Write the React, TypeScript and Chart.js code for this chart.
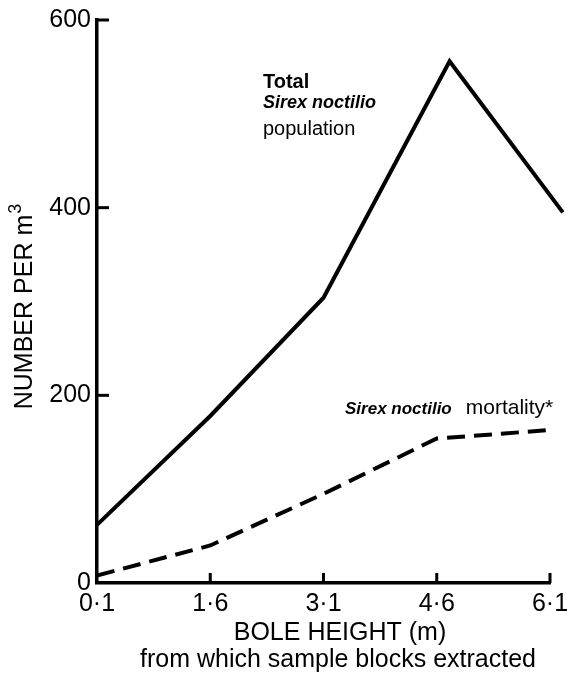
import React, { useEffect, useRef } from "react";
import { Chart, registerables } from "chart.js";

Chart.register(...registerables);

// ---- data ----
const heightTicks = [0.1, 1.6, 3.1, 4.6, 6.1];
const heightLabels = ["0·1", "1·6", "3·1", "4·6", "6·1"];
const yTicks = [0, 200, 400, 600];

const totalX = [0.1, 1.6, 3.1, 4.77, 6.27];
const totalY = [62, 178, 304, 556, 395];

const mortalityX = [0.1, 1.6, 3.1, 4.6, 6.1];
const mortalityY = [8, 40, 95, 154, 163];

const FONT = '"Liberation Sans", Arial, Helvetica, sans-serif';

const decor = {
  id: "decor",
  afterDraw(chart: any) {
    const { ctx, chartArea: a, scales } = chart;
    const xs = scales.x;
    const ys = scales.y;
    ctx.save();
    ctx.strokeStyle = "#000";
    ctx.lineWidth = 3;
    ctx.lineCap = "butt";
    heightTicks.slice(1).forEach((v) => {
      const px = xs.getPixelForValue(v);
      ctx.beginPath();
      ctx.moveTo(px, a.bottom);
      ctx.lineTo(px, a.bottom - 10);
      ctx.stroke();
    });
    yTicks.slice(1).forEach((v) => {
      const py = ys.getPixelForValue(v);
      ctx.beginPath();
      ctx.moveTo(a.left, py);
      ctx.lineTo(a.left + 12, py);
      ctx.stroke();
    });

    ctx.fillStyle = "#000";
    // annotations
    ctx.textAlign = "left";
    ctx.textBaseline = "alphabetic";
    ctx.font = `bold 20px ${FONT}`;
    ctx.fillText("Total", 263, 88);
    ctx.font = `italic bold 18px ${FONT}`;
    ctx.fillText("Sirex noctilio", 263, 108);
    ctx.font = `20px ${FONT}`;
    ctx.fillText("population", 263, 135);

    ctx.font = `italic bold 17px ${FONT}`;
    const s1 = "Sirex noctilio";
    ctx.fillText(s1, 345, 414);
    const w1 = ctx.measureText(s1).width;
    ctx.font = `21px ${FONT}`;
    ctx.fillText("mortality*", 345 + w1 + 14, 414);

    // x title
    ctx.textAlign = "center";
    ctx.font = `25px ${FONT}`;
    ctx.fillText("BOLE HEIGHT (m)", 340, 640);
    ctx.fillText("from which sample blocks extracted", 338, 667);

    // y title
    ctx.save();
    ctx.translate(32, 307);
    ctx.rotate(-Math.PI / 2);
    ctx.textAlign = "left";
    ctx.font = `25px ${FONT}`;
    const main = "NUMBER PER m";
    const mw = ctx.measureText(main).width;
    ctx.font = `18px ${FONT}`;
    const sw = ctx.measureText("3").width;
    const start = -(mw + sw) / 2;
    ctx.font = `25px ${FONT}`;
    ctx.fillText(main, start, 0);
    ctx.font = `18px ${FONT}`;
    ctx.fillText("3", start + mw + 1, -11);
    ctx.restore();

    ctx.restore();
  },
};

export default function App() {
  const ref = useRef<HTMLCanvasElement>(null);
  useEffect(() => {
    const chart = new Chart(ref.current as HTMLCanvasElement, {
      type: "line",
      data: {
        datasets: [
          {
            label: "Total Sirex noctilio population",
            data: totalX.map((x, i) => ({ x, y: totalY[i] })),
            borderColor: "#000",
            borderWidth: 4,
            pointRadius: 0,
            tension: 0,
            fill: false,
            clip: false as any,
            borderJoinStyle: "miter",
          },
          {
            label: "Sirex noctilio mortality*",
            data: mortalityX.map((x, i) => ({ x, y: mortalityY[i] })),
            borderColor: "#000",
            borderWidth: 4,
            borderDash: [18, 9],
            pointRadius: 0,
            tension: 0,
            fill: false,
          },
        ],
      },
      options: {
        animation: false,
        responsive: false,
        devicePixelRatio: 1,
        layout: { padding: { left: 0, top: 20, right: 17, bottom: 0 } },
        plugins: { legend: { display: false }, tooltip: { enabled: false } },
        scales: {
          x: {
            type: "linear",
            min: 0.1,
            max: 6.1,
            afterBuildTicks: (s: any) => {
              s.ticks = heightTicks.map((v) => ({ value: v }));
            },
            afterFit: (s: any) => {
              s.height = 94;
              s.paddingRight = 0;
              s.paddingLeft = 0;
            },
            grid: { display: true, drawOnChartArea: false, drawTicks: false },
            border: { display: true, color: "#000", width: 3.5 },
            ticks: {
              color: "#000",
              padding: 6,
              maxRotation: 0,
              autoSkip: false,
              font: { family: FONT, size: 25 },
              callback: (v: any) => {
                let best = 0;
                heightTicks.forEach((t, i) => {
                  if (Math.abs(t - v) < Math.abs(heightTicks[best] - v)) best = i;
                });
                return heightLabels[best];
              },
            },
          },
          y: {
            min: 0,
            max: 600,
            afterBuildTicks: (s: any) => {
              s.ticks = yTicks.map((v) => ({ value: v }));
            },
            afterFit: (s: any) => {
              s.width = 97;
              s.paddingTop = 0;
              s.paddingBottom = 0;
            },
            grid: { display: true, drawOnChartArea: false, drawTicks: false },
            border: { display: true, color: "#000", width: 3.5 },
            ticks: {
              color: "#000",
              padding: 6,
              font: { family: FONT, size: 25 },
            },
          },
        },
      },
      plugins: [decor],
    });
    return () => chart.destroy();
  }, []);
  return (
    <div style={{ position: "absolute", left: 0, top: 0, width: 567, height: 677, background: "#fff" }}>
      <canvas ref={ref} width={567} height={677} style={{ display: "block", width: 567, height: 677 }} />
    </div>
  );
}
